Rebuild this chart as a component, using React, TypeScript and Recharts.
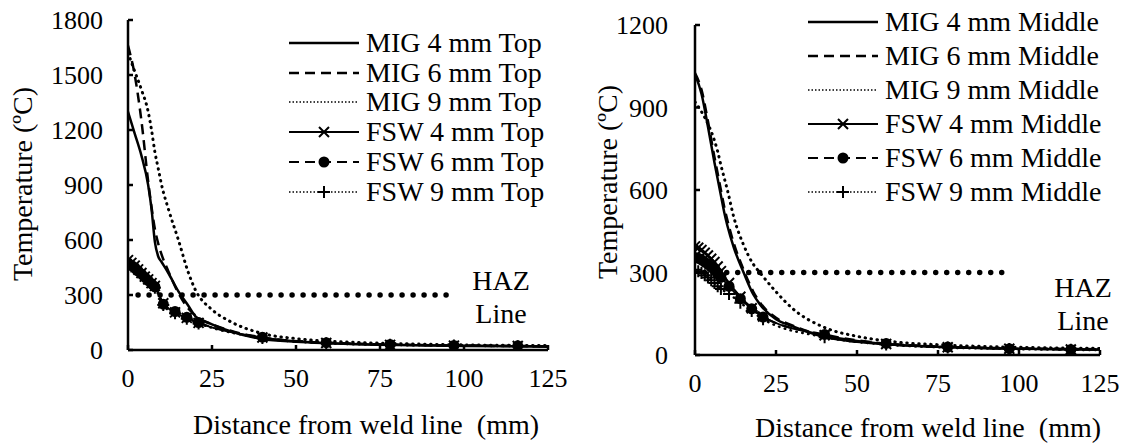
import React from 'react';
import { LineChart, Line, XAxis, YAxis } from 'recharts';

const FONT = 'Liberation Serif, Times New Roman, Times, DejaVu Serif, serif';

// axis ticks
const distTicks = [0, 25, 50, 75, 100, 125];
const topTempTicks = [0, 300, 600, 900, 1200, 1500, 1800];
const middleTempTicks = [0, 300, 600, 900, 1200];

// MIG curves (smooth, no markers)
const migDist = [0, 2, 4, 6, 7, 8, 9, 10, 12, 15, 18, 20, 25, 30, 40, 50, 60, 80, 100, 125];
const mig4Top = [1300, 1180, 1060, 900, 770, 590, 510, 480, 420, 320, 240, 185, 140, 105, 60, 45, 37, 27, 22, 18];
const mig6Top = [1660, 1500, 1250, 920, 780, 660, 580, 520, 430, 310, 225, 190, 140, 108, 64, 47, 39, 29, 24, 20];
const mig9Top = [1620, 1520, 1420, 1300, 1200, 1080, 990, 900, 770, 600, 420, 330, 220, 160, 90, 62, 48, 35, 28, 24];
const mig4Middle = [1020, 950, 830, 700, 640, 580, 520, 470, 390, 300, 220, 185, 130, 105, 65, 48, 38, 28, 23, 20];
const mig6Middle = [1025, 965, 850, 720, 660, 600, 540, 490, 405, 310, 230, 192, 135, 108, 68, 50, 40, 29, 24, 21];
const mig9Middle = [920, 885, 840, 780, 740, 690, 645, 600, 500, 400, 330, 300, 230, 170, 100, 68, 50, 35, 28, 24];

// FSW curves (measured points with markers)
const fswDist = [0, 1, 2, 3, 4, 5, 6, 7, 8, 10.5, 14, 17.5, 21, 40, 59, 78, 97, 116, 125];
const fsw4Top = [490, 475, 460, 440, 420, 400, 385, 365, 350, 255, 205, 175, 148, 68, 38, 28, 24, 22, 21];
const fsw6Top = [475, 462, 450, 432, 415, 397, 380, 362, 345, 250, 210, 178, 150, 70, 40, 30, 25, 23, 22];
const fsw9Top = [470, 455, 440, 425, 410, 392, 375, 358, 340, 245, 200, 170, 145, 65, 37, 28, 24, 21, 20];
const fsw4Middle = [395, 390, 382, 372, 362, 350, 338, 322, 305, 262, 212, 170, 140, 72, 40, 28, 23, 20, 19];
const fsw6Middle = [355, 352, 346, 338, 330, 320, 308, 295, 282, 250, 205, 168, 138, 75, 42, 29, 23, 20, 19];
const fsw9Middle = [310, 305, 298, 290, 282, 272, 262, 250, 240, 222, 190, 160, 130, 65, 38, 27, 22, 19, 18];

// HAZ threshold
const hazDist = [3, 97];
const hazTemp = [300, 300];

const zip = (xs: number[], ys: number[]) => xs.map((x, i) => ({ x, y: ys[i] }));

type Marker = 'cross' | 'circle' | 'plus' | undefined;

function drawMarker(kind: Marker, cx: number, cy: number, key?: string) {
  if (kind === 'cross') {
    return (
      <path key={key} d={`M${cx - 5},${cy - 5}L${cx + 5},${cy + 5}M${cx + 5},${cy - 5}L${cx - 5},${cy + 5}`}
        stroke="#000" strokeWidth={2} fill="none" />
    );
  }
  if (kind === 'circle') {
    return <circle key={key} cx={cx} cy={cy} r={5.5} fill="#000" stroke="none" />;
  }
  if (kind === 'plus') {
    return (
      <path key={key} d={`M${cx - 6},${cy}L${cx + 6},${cy}M${cx},${cy - 6}L${cx},${cy + 6}`}
        stroke="#000" strokeWidth={2} fill="none" />
    );
  }
  return null;
}

const makeDot = (kind: Marker, last: number) => (props: any) => {
  const { cx, cy, index } = props;
  if (cx == null || cy == null || index === last) return <g key={`e-${index}`} />;
  return drawMarker(kind, cx, cy, `m-${index}`) || <g key={`e-${index}`} />;
};

interface Series {
  name: string;
  dist: number[];
  temp: number[];
  dash?: string;
  width: number;
  marker?: Marker;
}

const SOLID = undefined;
const DASH = '10 6';
const DOT = '0.5 5.5';

const topSeries: Series[] = [
  { name: 'MIG 4 mm Top', dist: migDist, temp: mig4Top, dash: SOLID, width: 2.5 },
  { name: 'MIG 6 mm Top', dist: migDist, temp: mig6Top, dash: DASH, width: 2.5 },
  { name: 'MIG 9 mm Top', dist: migDist, temp: mig9Top, dash: DOT, width: 3 },
  { name: 'FSW 4 mm Top', dist: fswDist, temp: fsw4Top, dash: SOLID, width: 2, marker: 'cross' },
  { name: 'FSW 6 mm Top', dist: fswDist, temp: fsw6Top, dash: DASH, width: 2, marker: 'circle' },
  { name: 'FSW 9 mm Top', dist: fswDist, temp: fsw9Top, dash: DOT, width: 2.5, marker: 'plus' },
];

const middleSeries: Series[] = [
  { name: 'MIG 4 mm Middle', dist: migDist, temp: mig4Middle, dash: SOLID, width: 2.5 },
  { name: 'MIG 6 mm Middle', dist: migDist, temp: mig6Middle, dash: DASH, width: 2.5 },
  { name: 'MIG 9 mm Middle', dist: migDist, temp: mig9Middle, dash: DOT, width: 3 },
  { name: 'FSW 4 mm Middle', dist: fswDist, temp: fsw4Middle, dash: SOLID, width: 2, marker: 'cross' },
  { name: 'FSW 6 mm Middle', dist: fswDist, temp: fsw6Middle, dash: DASH, width: 2, marker: 'circle' },
  { name: 'FSW 9 mm Middle', dist: fswDist, temp: fsw9Middle, dash: DOT, width: 2.5, marker: 'plus' },
];

const axisStyle = { stroke: '#000', strokeWidth: 2.5 };
const tickStyle = { fill: '#000', fontSize: 26, fontFamily: FONT };

function Panel({ left, width, top, right, yTicks, yMax, yAxisWidth, xAxisHeight, yTickMargin, series }: any) {
  return (
    <div style={{ position: 'absolute', left, top: 0 }}>
      <LineChart width={width} height={444} margin={{ top, right, bottom: 0, left: 0 }}
        style={{ fontFamily: FONT }}>
        <XAxis type="number" dataKey="x" domain={[0, 125]} ticks={distTicks} allowDataOverflow
          axisLine={axisStyle} tickLine={axisStyle} tick={tickStyle} tickSize={-5} tickMargin={24}
          height={xAxisHeight} interval={0} />
        <YAxis type="number" dataKey="y" domain={[0, yMax]} ticks={yTicks} allowDataOverflow
          axisLine={axisStyle} tickLine={axisStyle} tick={tickStyle} tickSize={-5} tickMargin={yTickMargin}
          width={yAxisWidth} interval={0} />
        <Line data={zip(hazDist, hazTemp)} dataKey="y" stroke="#000" strokeWidth={5.5}
          strokeDasharray="0 11" strokeLinecap="round" dot={false} isAnimationActive={false} />
        {series.map((s: Series) => (
          <Line key={s.name} data={zip(s.dist, s.temp)} dataKey="y" name={s.name} type="monotone"
            stroke="#000" strokeWidth={s.width} strokeDasharray={s.dash}
            strokeLinecap={s.dash === DOT ? 'round' : 'butt'}
            dot={s.marker ? makeDot(s.marker, s.dist.length - 1) : false}
            activeDot={false} isAnimationActive={false} />
        ))}
      </LineChart>
    </div>
  );
}

function LegendBox({ left, top, rowHeight, series }: { left: number; top: number; rowHeight: number; series: Series[] }) {
  return (
    <div style={{ position: 'absolute', left, top }}>
      {series.map((s) => (
        <div key={s.name} style={{ display: 'flex', alignItems: 'center', height: rowHeight }}>
          <svg width={70} height={20} style={{ marginRight: 7 }}>
            <line x1={0} y1={10} x2={70} y2={10} stroke="#000"
              strokeWidth={s.dash === DOT ? 1.5 : s.width}
              strokeDasharray={s.dash === DOT ? '1.5 2' : s.dash} />
            {drawMarker(s.marker, 35, 10)}
          </svg>
          <span style={{ fontFamily: FONT, fontSize: 28, lineHeight: 1, whiteSpace: 'nowrap' }}>{s.name}</span>
        </div>
      ))}
    </div>
  );
}

const textStyle: React.CSSProperties = {
  position: 'absolute', fontFamily: FONT, fontSize: 28, lineHeight: '33px', whiteSpace: 'pre', color: '#000',
};
const titleStyle: React.CSSProperties = { ...textStyle, lineHeight: '28px' };

export default function App() {
  return (
    <div style={{ position: 'absolute', left: 0, top: 0, width: 1130, height: 444, background: '#fff', overflow: 'hidden', fontFamily: FONT }}>
      <Panel left={0} width={576} top={20} right={28} yTicks={topTempTicks} yMax={1800}
        yAxisWidth={128} xAxisHeight={94} yTickMargin={30} series={topSeries} />
      <Panel left={565} width={565} top={25} right={30} yTicks={middleTempTicks} yMax={1200}
        yAxisWidth={130} xAxisHeight={89} yTickMargin={32} series={middleSeries} />

      <LegendBox left={289} top={28} rowHeight={29.8} series={topSeries} />
      <LegendBox left={808} top={5} rowHeight={34} series={middleSeries} />

      <div style={{ ...titleStyle, left: 23, top: 184, transform: 'translate(-50%, -50%) rotate(-90deg)' }}>Temperature (ºC)</div>
      <div style={{ ...titleStyle, left: 608, top: 182, transform: 'translate(-50%, -50%) rotate(-90deg)' }}>Temperature (ºC)</div>

      <div style={{ ...titleStyle, left: 193, top: 411 }}>Distance from weld line  (mm)</div>
      <div style={{ ...titleStyle, left: 755, top: 414 }}>Distance from weld line  (mm)</div>

      <div style={{ ...textStyle, left: 466, top: 264, width: 70, textAlign: 'center' }}>{'HAZ\nLine'}</div>
      <div style={{ ...textStyle, left: 1048, top: 271, width: 70, textAlign: 'center' }}>{'HAZ\nLine'}</div>
    </div>
  );
}
